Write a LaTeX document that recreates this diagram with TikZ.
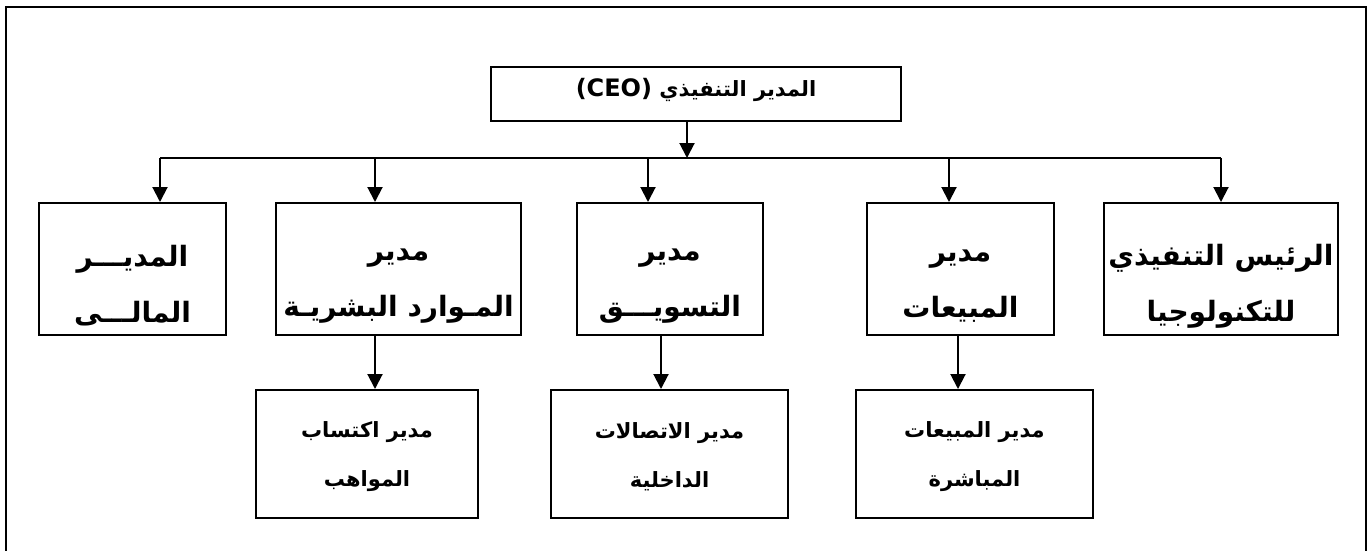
\documentclass[tikz,border=0pt]{standalone}
\usepackage{fontspec}
\setmainfont{Liberation Sans}
\newfontfamily\arabicfont[Script=Arabic]{DejaVu Sans}
\TeXXeTstate=1
\usetikzlibrary{arrows.meta}
% one line of right-to-left bold Arabic
\newcommand\artxt[1]{{\arabicfont\bfseries\beginR #1\endR}}

\begin{document}
\begin{tikzpicture}[x=1pt,y=-1pt,
  box/.style={draw, line width=2pt, inner sep=0pt},
  label/.style={inner sep=0pt, align=center},
  toptext/.style={label, font=\fontsize{21}{26}\selectfont},
  midtext/.style={label, font=\fontsize{28}{56}\selectfont},
  lowtext/.style={label, font=\fontsize{21}{49}\selectfont},
  link/.style={line width=2pt},
  arr/.style={line width=2pt, -{Triangle[length=15pt,width=15pt]}}]
\useasboundingbox (0,0) rectangle (1368,550);

% outer frame (its lower edge runs off the page)
\draw[line width=2.4pt] (6,7) rectangle (1366,570);

% chief executive
\node[box, minimum width=410pt, minimum height=54pt] (ceo) at (696,94) {};
\node[toptext] (ceo-t) at ([yshift=4pt]ceo.center)
  {\artxt{المدير التنفيذي \beginL{\fontsize{24}{26}\selectfont\bfseries(CEO)}\endL}};

% second level
\node[box, minimum width=187pt, minimum height=132pt] (fin) at (132.5,269) {};
\node[box, minimum width=245pt, minimum height=132pt] (hr) at (398.5,269) {};
\node[box, minimum width=186pt, minimum height=132pt] (mkt) at (670,269) {};
\node[box, minimum width=187pt, minimum height=132pt] (sal) at (960.5,269) {};
\node[box, minimum width=234pt, minimum height=132pt] (tec) at (1221,269) {};

\node[midtext] (fin-t) at ([yshift=-17pt]fin.center) {\artxt{المديـــر}\\\artxt{المالـــى}};
\node[midtext] (hr-t)  at ([yshift=-17pt]hr.center)  {\artxt{مدير}\\\artxt{المـوارد البشريـة}};
\node[midtext] (mkt-t) at ([yshift=-17pt]mkt.center) {\artxt{مدير}\\\artxt{التسويـــق}};
\node[midtext] (sal-t) at ([yshift=-17pt]sal.center) {\artxt{مدير}\\\artxt{المبيعات}};
\node[midtext] (tec-t) at ([yshift=-17pt]tec.center) {\artxt{الرئيس التنفيذي}\\\artxt{للتكنولوجيا}};

% third level
\node[box, minimum width=222pt, minimum height=128pt] (tal) at (367,454) {};
\node[box, minimum width=237pt, minimum height=128pt] (icm) at (669.5,454) {};
\node[box, minimum width=237pt, minimum height=128pt] (dsl) at (974.5,454) {};

\node[lowtext] (tal-t) at ([yshift=-3pt]tal.center) {\artxt{مدير اكتساب}\\\artxt{المواهب}};
\node[lowtext] (icm-t) at ([yshift=-3pt]icm.center) {\artxt{مدير الاتصالات}\\\artxt{الداخلية}};
\node[lowtext] (dsl-t) at ([yshift=-3pt]dsl.center) {\artxt{مدير المبيعات}\\\artxt{المباشرة}};

% distribution bus under the chief executive
\coordinate (busA) at (160,158);
\coordinate (busB) at (375,158);
\coordinate (busC) at (648,158);
\coordinate (busD) at (949,158);
\coordinate (busE) at (1221,158);
\coordinate (ceoDrop) at (687,158);

\draw[arr] (ceo.south -| ceoDrop) -- (ceoDrop);
\draw[link] (busA) -- (busE);
\draw[arr] (busA) -- (busA |- fin.north);
\draw[arr] (busB) -- (busB |- hr.north);
\draw[arr] (busC) -- (busC |- mkt.north);
\draw[arr] (busD) -- (busD |- sal.north);
\draw[arr] (busE) -- (busE |- tec.north);

% second level to third level
\coordinate (dropA) at (375,0);
\coordinate (dropB) at (661,0);
\coordinate (dropC) at (958,0);
\draw[arr] (hr.south -| dropA) -- (tal.north -| dropA);
\draw[arr] (mkt.south -| dropB) -- (icm.north -| dropB);
\draw[arr] (sal.south -| dropC) -- (dsl.north -| dropC);
\end{tikzpicture}
\end{document}
